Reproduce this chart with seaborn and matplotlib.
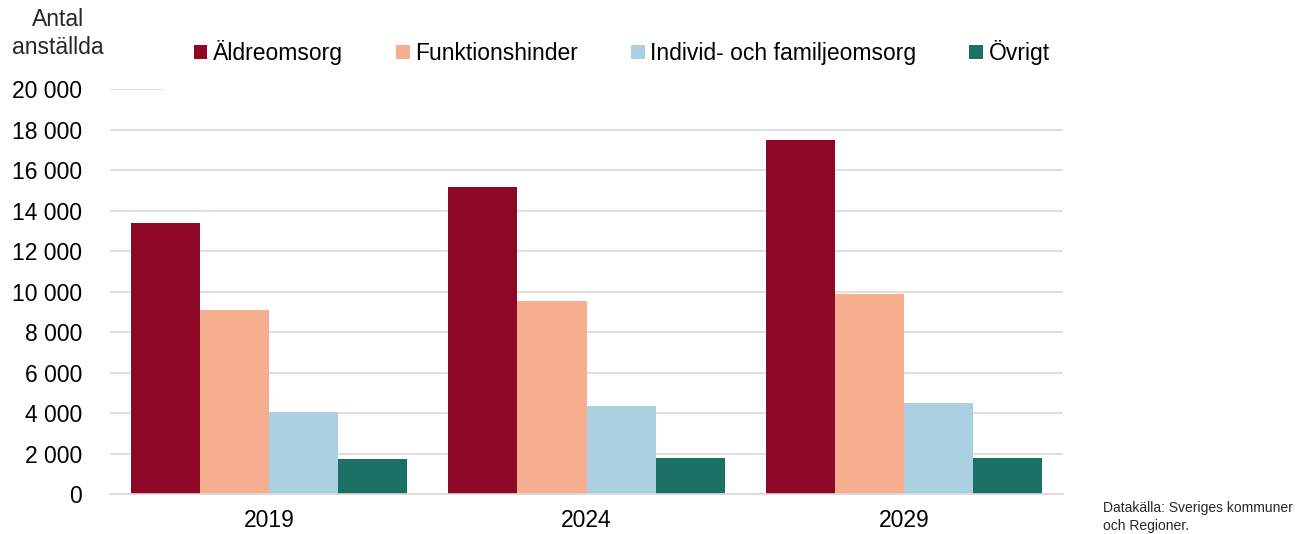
import matplotlib
matplotlib.use("Agg")
import matplotlib.pyplot as plt
import seaborn as sns
import pandas as pd
from matplotlib.ticker import FuncFormatter, FixedLocator

years = ["2019", "2024", "2029"]
categories = ["Äldreomsorg", "Funktionshinder", "Individ- och familjeomsorg", "Övrigt"]
aldreomsorg = [13400, 15150, 17500]
funktionshinder = [9100, 9550, 9900]
individ = [4050, 4350, 4480]
ovrigt = [1720, 1770, 1800]
colors = ["#8C0826", "#F6AE8F", "#ABD0E2", "#1B7165"]

series = [aldreomsorg, funktionshinder, individ, ovrigt]
df = pd.DataFrame(
    [(y, c, v) for c, vals in zip(categories, series) for y, v in zip(years, vals)],
    columns=["year", "kategori", "antal"],
)

sns.set_theme(style="white")
plt.rcParams["font.family"] = ["Liberation Sans", "DejaVu Sans"]

fig = plt.figure(figsize=(13.13, 5.34), dpi=100)
ax = fig.add_axes([0.0838, 0.0749, 0.7258, 0.7584])

sns.barplot(data=df, x="year", y="antal", hue="kategori", hue_order=categories,
            palette=colors, width=0.87, gap=0, saturation=1, linewidth=0, ax=ax, legend=True)

ax.set_ylim(0, 20000)
ax.set_xlim(-0.5, 2.5)
ax.yaxis.set_major_locator(FixedLocator(range(0, 20001, 2000)))
ax.yaxis.set_major_formatter(FuncFormatter(lambda v, _: f"{int(v):,}".replace(",", " ")))
ax.grid(axis="y", color="#D9D9D9", linewidth=1.2)
ax.set_axisbelow(True)
for s in ["left", "right", "top"]:
    ax.spines[s].set_visible(False)
ax.spines["bottom"].set_color("#D9D9D9")
ax.spines["bottom"].set_linewidth(1.2)

ax.set_xlabel("")
ax.set_ylabel("")
ax.tick_params(axis="y", length=0, labelsize=16.5, pad=20, labelcolor="black")
ax.tick_params(axis="x", which="major", length=0, labelsize=16.5, pad=11, labelcolor="black")
ax.xaxis.set_minor_locator(FixedLocator([-0.5, 0.5, 1.5, 2.5]))
ax.tick_params(axis="x", which="minor", length=7, color="#D9D9D9", width=1.2, direction="out")

leg = ax.legend(loc="center", bbox_to_anchor=(0.537, 1.09), ncol=4, frameon=True,
                fontsize=16.5, handlelength=0.6, handleheight=0.6, handletextpad=0.25,
                columnspacing=2.3, borderpad=1.3)
leg.get_frame().set_facecolor("white")
leg.get_frame().set_edgecolor("white")
leg.get_frame().set_alpha(1)
leg.get_frame().set_boxstyle("square", pad=0)
for t in leg.get_texts():
    t.set_color("black")

fig.text(58 / 1313, 1 - 20 / 534, "Antal", ha="center", va="center", fontsize=16.5)
fig.text(58 / 1313, 1 - 47 / 534, "anställda", ha="center", va="center", fontsize=16.5)
fig.text(1103 / 1313, 1 - 508 / 534, "Datakälla: Sveriges kommuner", ha="left", va="center", fontsize=10)
fig.text(1103 / 1313, 1 - 526 / 534, "och Regioner.", ha="left", va="center", fontsize=10)

fig.savefig("out.png", dpi=100)
